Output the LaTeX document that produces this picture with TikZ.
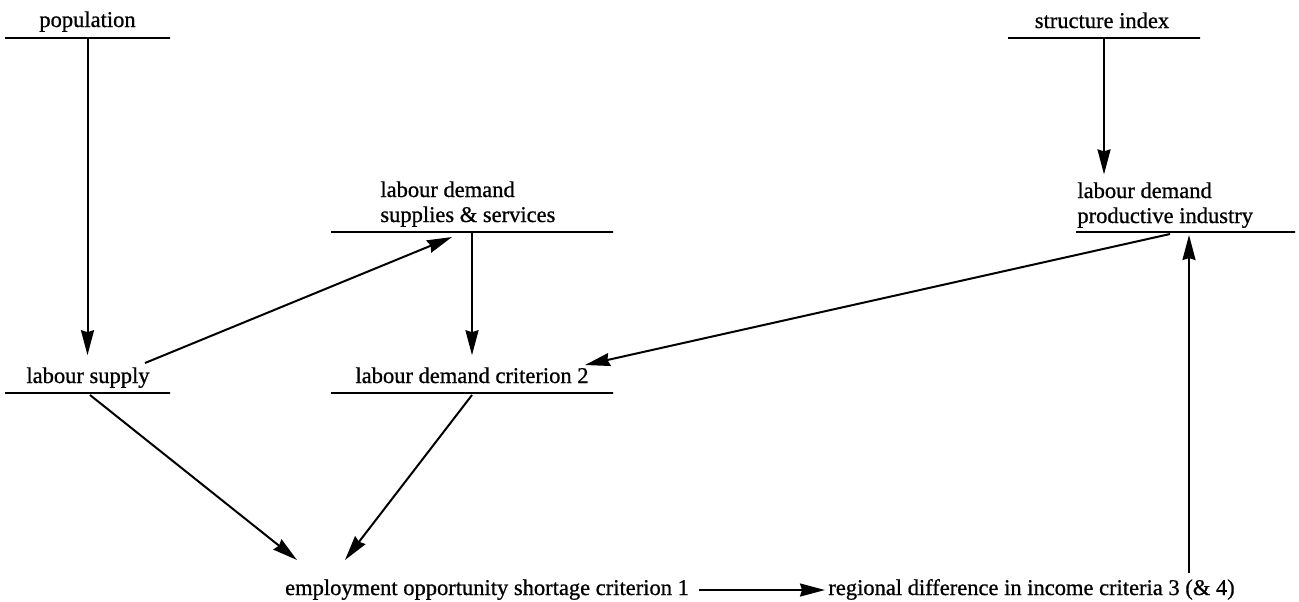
\documentclass[tikz,border=0pt]{standalone}
\usepackage{fontspec}
\setmainfont{Liberation Serif}[FakeBold=0.8]
\usetikzlibrary{arrows.meta,calc}
\begin{document}
\begin{tikzpicture}[x=0.5pt,y=-0.5pt,
  bar/.style={draw, line width=1pt, inner sep=0pt, minimum height=0pt, outer sep=0pt},
  txt/.style={inner xsep=0pt, inner ysep=6pt, text height=7.7pt, text depth=2.4pt, anchor=base, font=\fontsize{11.25}{12.5}\selectfont},
  mtxt/.style={inner sep=0pt, align=left, anchor=base west, font=\fontsize{11.25}{12.5}\selectfont},
  arr/.style={line width=1pt, -{Stealth[length=12.5pt,width=6.5pt,inset=1pt]}}]
\useasboundingbox (0,0) rectangle (1299,601);
\fill[white] (0,0) rectangle (1299,601);
% boxes
\node[bar, minimum width=82.5pt] (popB) at (87.5,38) {};
\node[txt] (popT) at (87.5,27) {population};
\node[bar, minimum width=96pt] (siB) at (1104,38) {};
\node[txt] (siT) at (1102,28) {structure index};
\node[bar, minimum width=109.5pt] (piB) at (1185.5,232) {};
\node[mtxt] (piT) at (1077,223) {labour demand\\productive industry};
\node[bar, minimum width=141pt] (ssB) at (472,232) {};
\node[mtxt] (ssT) at (380,222) {labour demand\\supplies \& services};
\node[bar, minimum width=82.5pt] (lsB) at (87.5,393) {};
\node[txt] (lsT) at (88,383) {labour supply};
\node[bar, minimum width=141pt] (ldB) at (472,393) {};
\node[txt] (ldT) at (472,383) {labour demand criterion 2};
\node[txt] (eoT) at (487,595) {employment opportunity shortage criterion 1};
\node[txt] (rdT) at (1031.5,595) {regional difference in income criteria 3 (\& 4)};
% connectors
\draw[arr] (popB.south) -- (popB.south |- lsT.north);
\draw[arr] (siB.south) -- ($(siB.south |- piT.north)+(0,-7.6)$);
\draw[arr] (ssB) -- (ldT);
\draw[arr] ($(lsT.base)+(57,-20)$) -- ($(ssB.center)+(-20,5)$);
\draw[arr] ($(piB.center)+(-15.5,2)$) -- ($(ldT.base)+(113,-18)$);
\draw[arr] ($(lsB.center)+(2.5,2)$) -- ($(eoT.base)+(-190,-35)$);
\draw[arr] ($(ldB.center)+(0,2)$) -- ($(eoT.base)+(-142,-35)$);
\draw[arr] ($(eoT.base)+(212,-5)$) -- ($(rdT.base)+(-206.5,-5)$);
\draw[arr] ($(rdT.base)+(157.5,-22)$) -- ($(piB.center)+(3.5,3)$);
\end{tikzpicture}
\end{document}
